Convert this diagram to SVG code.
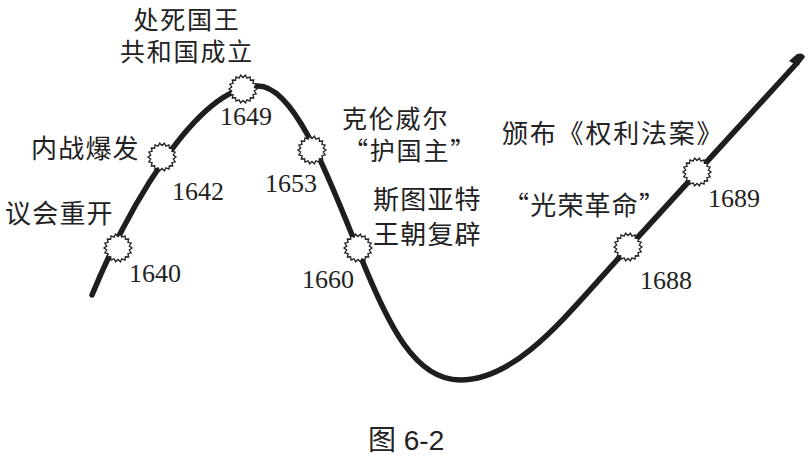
<svg xmlns="http://www.w3.org/2000/svg" xmlns:xlink="http://www.w3.org/1999/xlink" width="808" height="457" viewBox="0 0 808 457">
<style>
.cjk{font-family:"Noto Sans CJK SC","Liberation Serif",serif;font-size:26px;fill:#222;letter-spacing:1.2px}
.tight{font-size:25px;letter-spacing:1.8px}
.yr{font-family:"Liberation Serif","Noto Sans CJK SC",serif;font-size:26px;fill:#222}
.cap{font-family:"Liberation Sans","Noto Sans CJK SC",sans-serif;font-size:28px;fill:#222}
.curve{fill:none;stroke:#1e1e1e;stroke-width:5.5;stroke-linecap:round;stroke-linejoin:round}
.burst{fill:#fff;stroke:#222;stroke-width:1.3}
</style>
<defs>
<polygon id="burst" class="burst" points="14,0 11.3,2 13.2,4.8 9.9,5.7 10.7,9 7.4,8.8 7,12.1 3.9,10.8 2.4,13.8 0,11.5 -2.4,13.8 -3.9,10.8 -7,12.1 -7.4,8.8 -10.7,9 -9.9,5.7 -13.2,4.8 -11.3,2 -14,0 -11.3,-2 -13.2,-4.8 -9.9,-5.7 -10.7,-9 -7.4,-8.8 -7,-12.1 -3.9,-10.8 -2.4,-13.8 0,-11.5 2.4,-13.8 3.9,-10.8 7,-12.1 7.4,-8.8 10.7,-9 9.9,-5.7 13.2,-4.8 11.3,-2"/>
</defs>
<rect width="808" height="457" fill="#fff"/>
<g id="connectors">
<path class="curve" d="M92,295 C125,215 195,86 258,86 C295,86 330,180 360,255 C388,325 415,380 460,380 C520,380 570,310 628,248 L797,63"/>
<path d="M789,61 L797,54 Q803,52 805,57 L798,66 Z" fill="#1e1e1e"/>
</g>
<g id="n1640">
<use xlink:href="#burst" x="118" y="248"/>
<text class="yr" x="129" y="282">1640</text>
<text class="cjk" x="5" y="223">议会重开</text>
</g>
<g id="n1642">
<use xlink:href="#burst" x="162" y="157"/>
<text class="yr" x="172" y="200">1642</text>
<text class="cjk" x="31" y="158">内战爆发</text>
</g>
<g id="n1649">
<use xlink:href="#burst" x="243" y="89"/>
<text class="yr" x="220" y="125">1649</text>
<text class="cjk tight" text-anchor="middle"><tspan x="187" y="29">处死国王</tspan><tspan x="187" y="61">共和国成立</tspan></text>
</g>
<g id="n1653">
<use xlink:href="#burst" x="312" y="150"/>
<text class="yr" x="265" y="192">1653</text>
<text class="cjk tight"><tspan x="342" y="128">克伦威尔</tspan><tspan x="343" y="160">“护国主”</tspan></text>
</g>
<g id="n1660">
<use xlink:href="#burst" x="358" y="248"/>
<text class="yr" x="302" y="288">1660</text>
<text class="cjk"><tspan x="373" y="209">斯图亚特</tspan><tspan x="373" y="244">王朝复辟</tspan></text>
</g>
<g id="n1688">
<use xlink:href="#burst" x="628" y="247"/>
<text class="yr" x="640" y="289">1688</text>
<text class="cjk" x="503" y="215">“光荣革命”</text>
</g>
<g id="n1689">
<use xlink:href="#burst" x="697" y="172"/>
<text class="yr" x="708" y="207">1689</text>
<text class="cjk" x="502" y="143" style="letter-spacing:1.8px">颁布《权利法案》</text>
</g>
<text class="cap" x="368" y="450">图 6-2</text>
</svg>
